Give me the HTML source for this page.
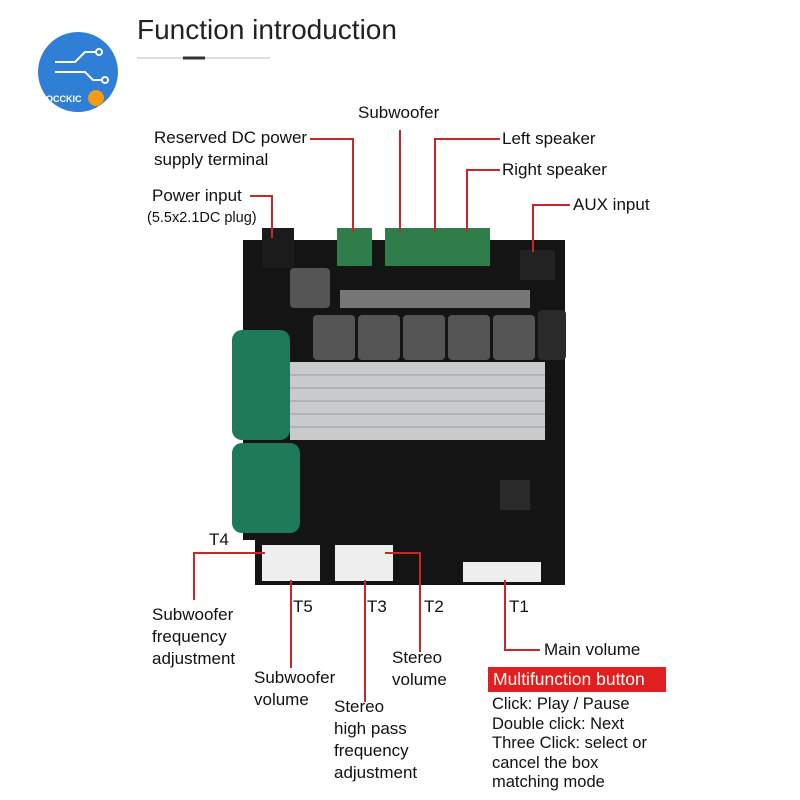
<!DOCTYPE html>
<html><head><meta charset="utf-8"><style>
body{margin:0;width:800px;height:800px;background:#fff;overflow:hidden;position:relative;font-family:"Liberation Sans",sans-serif;}
.t{position:absolute;font-size:17px;color:#111;line-height:22px;white-space:nowrap}
</style></head><body>
<svg width="800" height="800" style="position:absolute;left:0;top:0">
<circle cx="78" cy="72" r="40" fill="#2f7fd6"/>
<g stroke="#fff" stroke-width="2" fill="none"><path d="M55 62h20l10-10h12"/><path d="M55 72h30l8 8h10"/><circle cx="99" cy="52" r="3"/><circle cx="105" cy="80" r="3"/></g>
<circle cx="96" cy="98" r="8" fill="#f39c12"/>
<text x="46" y="102" font-size="9" font-weight="bold" fill="#fff" font-family="Liberation Sans">OCCKIC</text>
<line x1="137" y1="58" x2="270" y2="58" stroke="#bbb" stroke-width="1"/>
<line x1="183" y1="58" x2="205" y2="58" stroke="#333" stroke-width="3"/>
<path d="M243 240H565V585H255V540H243Z" fill="#141414"/>
<rect x="262" y="228" width="32" height="40" fill="#1b1b1b"/>
<rect x="520" y="250" width="35" height="30" fill="#222"/>
<g fill="#2e7d4a"><rect x="337" y="228" width="35" height="38"/><rect x="385" y="228" width="35" height="38"/><rect x="420" y="228" width="35" height="38"/><rect x="455" y="228" width="35" height="38"/></g>
<g fill="#555"><rect x="290" y="268" width="40" height="40" rx="4"/><rect x="313" y="315" width="42" height="45" rx="4"/><rect x="358" y="315" width="42" height="45" rx="4"/><rect x="403" y="315" width="42" height="45" rx="4"/><rect x="448" y="315" width="42" height="45" rx="4"/><rect x="493" y="315" width="42" height="45" rx="4"/></g>
<g fill="#777"><rect x="340" y="290" width="190" height="18"/></g>
<rect x="538" y="310" width="28" height="50" rx="4" fill="#2a2a2a"/>
<rect x="290" y="362" width="255" height="78" fill="#c8cacc"/>
<g stroke="#9a9c9e"><line x1="290" y1="375" x2="545" y2="375"/><line x1="290" y1="388" x2="545" y2="388"/><line x1="290" y1="401" x2="545" y2="401"/><line x1="290" y1="414" x2="545" y2="414"/><line x1="290" y1="427" x2="545" y2="427"/></g>
<rect x="232" y="330" width="58" height="110" rx="10" fill="#1f7a5a"/>
<rect x="232" y="443" width="68" height="90" rx="10" fill="#1f7a5a"/>
<rect x="500" y="480" width="30" height="30" fill="#2a2a2a"/>
<g fill="#eee"><rect x="262" y="545" width="58" height="18"/><rect x="262" y="563" width="58" height="18"/><rect x="335" y="545" width="58" height="18"/><rect x="335" y="563" width="58" height="18"/><rect x="463" y="562" width="78" height="20"/></g>
<g stroke="#c62828" stroke-width="2" fill="none">
<path d="M310 139H353V232"/><path d="M400 130V232"/><path d="M500 139H435V232"/><path d="M500 170H467V232"/><path d="M570 205H533V252"/><path d="M250 196H272V238"/>
<path d="M265 553H194V600"/><path d="M291 580V668"/><path d="M365 580V702"/><path d="M385 553H420V652"/><path d="M505 580V650H540"/>
</g>
<rect x="488" y="667" width="178" height="25" fill="#e02020"/>
</svg>
<div class="t" style="left:137px;top:13px;font-size:28px;line-height:34px;color:#222">Function introduction</div>
<div class="t" style="left:358px;top:102px">Subwoofer</div>
<div class="t" style="left:154px;top:127px">Reserved DC power<br>supply terminal</div>
<div class="t" style="left:502px;top:128px">Left speaker</div>
<div class="t" style="left:502px;top:159px">Right speaker</div>
<div class="t" style="left:152px;top:185px">Power input</div>
<div class="t" style="left:147px;top:207px;font-size:14.5px">(5.5x2.1DC plug)</div>
<div class="t" style="left:573px;top:194px">AUX input</div>
<div class="t" style="left:209px;top:529px">T4</div>
<div class="t" style="left:293px;top:596px">T5</div>
<div class="t" style="left:367px;top:596px">T3</div>
<div class="t" style="left:424px;top:596px">T2</div>
<div class="t" style="left:509px;top:596px">T1</div>
<div class="t" style="left:152px;top:604px">Subwoofer<br>frequency<br>adjustment</div>
<div class="t" style="left:544px;top:639px">Main volume</div>
<div class="t" style="left:392px;top:647px">Stereo<br>volume</div>
<div class="t" style="left:254px;top:667px">Subwoofer<br>volume</div>
<div class="t" style="left:334px;top:696px">Stereo<br>high pass<br>frequency<br>adjustment</div>
<div class="t" style="left:493px;top:668px;color:#fff;font-size:17.5px">Multifunction button</div>
<div class="t" style="left:492px;top:695px;line-height:19.5px;font-size:16.5px">Click: Play / Pause<br>Double click: Next<br>Three Click: select or<br>cancel the box<br>matching mode</div>
</body></html>
